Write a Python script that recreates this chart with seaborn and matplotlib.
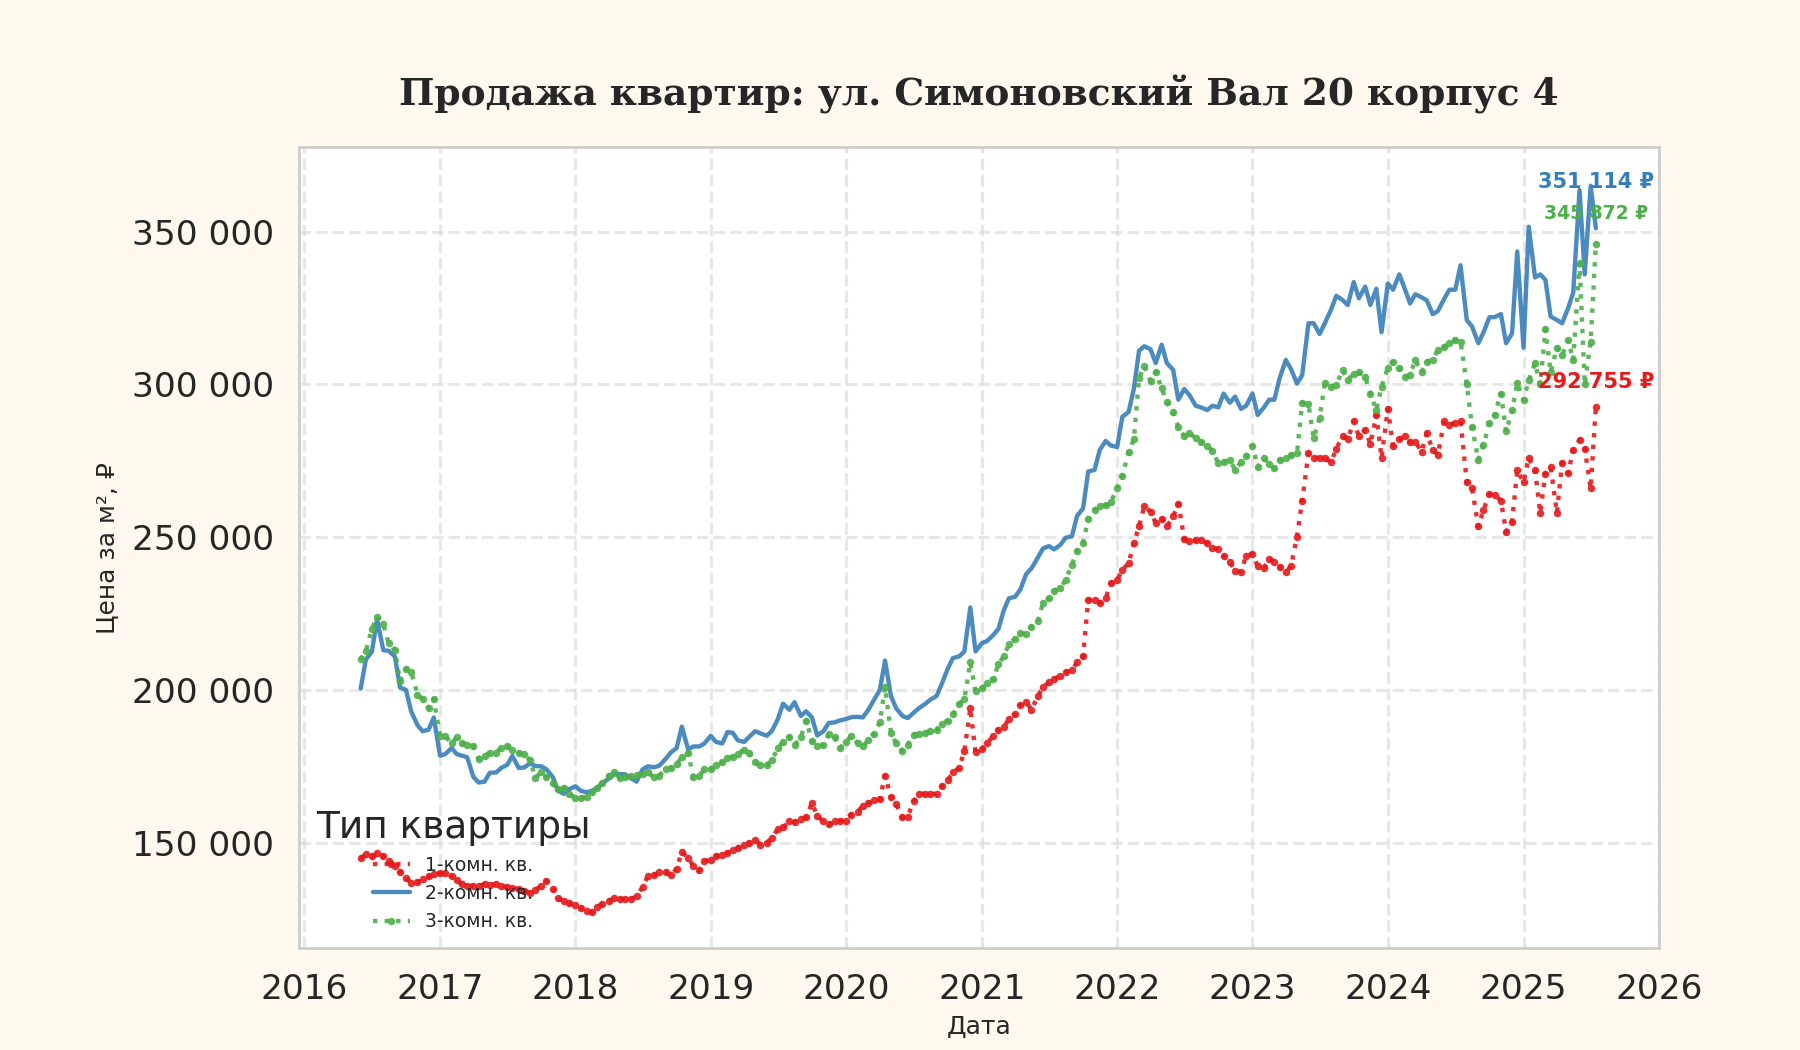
import numpy as np
import pandas as pd
import matplotlib
matplotlib.use("Agg")
import matplotlib.pyplot as plt
import matplotlib.dates as mdates
from matplotlib.ticker import FuncFormatter
import seaborn as sns

# ---------------- data ----------------
title_text = "Продажа квартир: ул. Симоновский Вал 20 корпус 4"
legend_title = "Тип квартиры"
series_names = ["1-комн. кв.", "2-комн. кв.", "3-комн. кв."]
x_label = "Дата"
y_label = "Цена за м², ₽"
first_date = "2016-06-01"   # semi-monthly observations (1st and 15th)
n_points = 220

price_1room = [
    145000, 146200, 145500, 146500, 145500, 144000, 142500, 140500, 138500, 136900,
    137000, 138000, 139000, 139700, 140000, 140000, 139000, 137700, 136500, 136000,
    135800, 135800, 136500, 136200, 136400, 135800, 135500, 135300, 134800, 134100,
    133700, 134500, 136000, 137600, 135000, 131800, 130900, 130400, 129500, 128600,
    127700, 127200, 129000, 130000, 131000, 131800, 131500, 131600, 131500, 132500,
    135500, 139000, 139500, 140300, 140500, 139300, 141500, 147000, 145000, 142500,
    141000, 143900, 144500, 145600, 146000, 146700, 147500, 148300, 149200, 150000,
    151000, 149400, 150000, 151600, 154500, 155000, 157000, 156700, 157800, 158300,
    163000, 158800, 157000, 156000, 157000, 157200, 157200, 159200, 160200, 162000,
    163000, 163900, 164300, 172000, 165000, 162700, 158300, 158500, 163500, 166000,
    166000, 166000, 166000, 168500, 170500, 173000, 174500, 180000, 194000, 179600,
    180700, 182500, 185000, 187000, 187800, 190500, 192000, 195000, 196000, 193500,
    198000, 200900, 202500, 203500, 204700, 205800, 206500, 209100, 211000, 229500,
    229500, 228500, 230000, 235000, 236000, 239300, 241500, 248000, 253500, 260100,
    258400, 254600, 256000, 253500, 256800, 261000, 249500, 248600, 249000, 249000,
    248000, 246500, 246000, 243800, 242000, 239000, 238700, 244000, 244500, 240500,
    240000, 243000, 242000, 240400, 238700, 240500, 250200, 262000, 277500, 276000,
    276000, 276000, 274500, 279000, 283000, 282000, 288000, 283000, 285000, 280500,
    290000, 276000, 292000, 280000, 282000, 283000, 281300, 281300, 278000, 284000,
    278600, 277000, 287900, 286800, 287500, 288000, 268000, 266000, 253500, 259000,
    264000, 263800, 262000, 251800, 255000, 271900, 268000, 276000, 271900, 258000,
    270800, 273000, 258000, 274300, 271000, 278500, 281800, 279000, 266000, 292755,
]
price_2room = [
    200500, 210000, 212500, 223000, 213000, 212800, 211000, 200800, 200000, 193000,
    188500, 186500, 187000, 191000, 178500, 179000, 181000, 179000, 178500, 178000,
    171500, 169700, 170000, 172900, 173000, 174500, 175500, 178400, 174500, 174600,
    176000, 175100, 175000, 174000, 171500, 167000, 166000, 167500, 168500, 167000,
    166500, 167000, 168000, 169500, 171000, 172400, 172500, 172400, 171000, 170000,
    174000, 175000, 174700, 175200, 177400, 179500, 181000, 188000, 180500, 181500,
    181500, 182500, 185000, 183000, 182500, 186200, 186000, 183500, 183000, 184700,
    186500, 185800, 185000, 186600, 190500, 195500, 193500, 196000, 191500, 193000,
    191000, 185100, 186500, 189200, 189400, 190000, 190500, 191100, 191200, 191000,
    193500, 196500, 200000, 209600, 198000, 194000, 191500, 190800, 192500, 194000,
    195400, 196800, 198000, 202000, 206900, 210400, 211000, 212600, 227000, 212600,
    215300, 216000, 218000, 220000, 226000, 230000, 230500, 232900, 238000, 239800,
    243300, 246300, 247100, 246000, 247500, 249800, 250300, 257000, 259400, 271500,
    272000, 278500, 281500, 280000, 279500, 289400, 291000, 298500, 311000, 312500,
    311500, 307000, 313000, 307000, 304800, 295000, 298500, 296500, 293000, 292500,
    291600, 293000, 292500, 297000, 294000, 296000, 292000, 293000, 297000, 290000,
    292500, 295000, 295000, 302000, 308000, 305000, 300300, 303000, 320000, 320000,
    316500, 320000, 324500, 329000, 327600, 326000, 333500, 328200, 332000, 326000,
    331300, 317100, 333000, 331000, 336000, 331500, 326500, 329500, 328500, 327500,
    323000, 324000, 328000, 331000, 331000, 339000, 321000, 319000, 313500, 317000,
    322000, 322000, 323000, 313500, 316700, 343500, 312000, 351600, 335000, 336000,
    334200, 322200, 321100, 320000, 324900, 330000, 363600, 336000, 365000, 351114,
]
price_3room = [
    210000, 212800, 220000, 224000, 221500, 215500, 213000, 203000, 207000, 206000,
    198500, 197000, 194000, 197000, 185000, 185000, 182500, 184500, 182500, 182000,
    181500, 177500, 178500, 179500, 179500, 181000, 181500, 180500, 179500, 179000,
    177000, 171300, 173000, 171500, 169500, 167500, 168000, 165800, 164800, 164800,
    165000, 166500, 168000, 169500, 172000, 173000, 171300, 171600, 171800, 172300,
    172500, 173000, 171400, 172000, 174100, 174500, 175800, 178000, 179300, 171500,
    172000, 174000, 174100, 175500, 176300, 177800, 178200, 179000, 180500, 179500,
    176300, 175500, 175500, 177000, 181000, 183000, 184500, 182000, 184500, 190000,
    183400, 181500, 182000, 185600, 184500, 181000, 183000, 185000, 182500, 181500,
    183500, 185600, 189400, 200900, 186000, 182500, 180000, 182000, 185300, 185600,
    186000, 186500, 187000, 189000, 190000, 192000, 195500, 197000, 209000, 199500,
    200500, 202300, 203500, 208500, 211000, 215000, 216800, 218500, 218300, 220700,
    222500, 228500, 230000, 232500, 233500, 236000, 241000, 245500, 248000, 256000,
    259000, 260300, 260500, 261500, 266000, 270000, 278000, 282000, 302000, 306000,
    301000, 304000, 298700, 294300, 291000, 286000, 283000, 284000, 282400, 281300,
    280000, 278200, 274200, 274700, 275300, 272000, 274500, 276500, 280000, 273000,
    275800, 274000, 272500, 275300, 276000, 277000, 277500, 294000, 293500, 282400,
    289000, 300300, 299300, 299800, 304700, 301500, 303500, 304000, 302500, 297000,
    291500, 299300, 305500, 307400, 305500, 302500, 303100, 308000, 304000, 307400,
    308000, 311300, 312400, 313500, 314500, 314000, 300000, 286200, 275300, 280200,
    287300, 290000, 297000, 284600, 291500, 300400, 295000, 301400, 306900, 300000,
    318000, 304000, 312000, 309500, 314500, 308000, 339600, 300000, 314000, 345872,
]

# ---------------- style ----------------
BG = "#fef8ef"
sns.set_theme(style="whitegrid", context="talk")
plt.rcParams["font.family"] = ["DejaVu Sans"]

dates = pd.date_range(first_date, periods=n_points, freq="SMS")
df = pd.DataFrame({"date": dates, series_names[0]: price_1room,
                   series_names[1]: price_2room, series_names[2]: price_3room})

colors = sns.color_palette("Set1", 3)  # red, blue, green
styles = [
    dict(linestyle=":", marker="o", markersize=3.6, linewidth=2.1),
    dict(linestyle="-", marker=None, linewidth=2.1),
    dict(linestyle=":", marker="o", markersize=3.6, linewidth=2.1),
]

fig = plt.figure(figsize=(12, 7), dpi=150, facecolor=BG)
ax = fig.add_axes([0.166, 0.097, 0.7556, 0.763])
ax.set_facecolor("white")

for name, col, st in zip(series_names, colors, styles):
    sns.lineplot(data=df, x="date", y=name, ax=ax, color=col, label=name,
                 markeredgewidth=0, alpha=0.9, **st)

# annotations of last values
label_offsets = [11.6, 22, 15]
label_sizes = [10, 10, 9]
for name, col, dy, fs in zip(series_names, colors, label_offsets, label_sizes):
    last_x = df["date"].iloc[-1]
    last_y = df[name].iloc[-1]
    txt = f"{last_y:,.0f} ₽".replace(",", " ")
    ax.annotate(txt, xy=(last_x, last_y), xytext=(0, dy), textcoords="offset points",
                ha="center", va="center", fontsize=fs, fontweight="bold", color=col)

ax.set_xlim(pd.Timestamp("2015-12-17"), pd.Timestamp("2026-01-01"))
ax.set_ylim(115500, 377700)
ax.xaxis.set_major_locator(mdates.YearLocator())
ax.xaxis.set_major_formatter(mdates.DateFormatter("%Y"))
ax.yaxis.set_major_locator(plt.MultipleLocator(50000))
ax.yaxis.set_major_formatter(FuncFormatter(lambda v, p: f"{v:,.0f}".replace(",", " ")))

ax.grid(True, linestyle="--", color="#dddddd", linewidth=1.5, alpha=0.7)
for s in ax.spines.values():
    s.set_visible(True)
    s.set_color("#cccccc")
    s.set_linewidth(1.3)
ax.tick_params(axis="both", labelsize=16.5, length=0, pad=12, colors="#262626")

ax.set_xlabel(x_label, fontsize=12, labelpad=4, color="#262626")
ax.set_ylabel(y_label, fontsize=12, labelpad=6, color="#262626")
ax.set_title(title_text, fontsize=18, fontweight="bold", family="DejaVu Serif",
             pad=20, color="#262626")

leg = ax.legend(title=legend_title, loc="lower left", frameon=False,
                fontsize=9, title_fontsize=18)

fig.savefig("out.png", dpi=150, facecolor=BG)
